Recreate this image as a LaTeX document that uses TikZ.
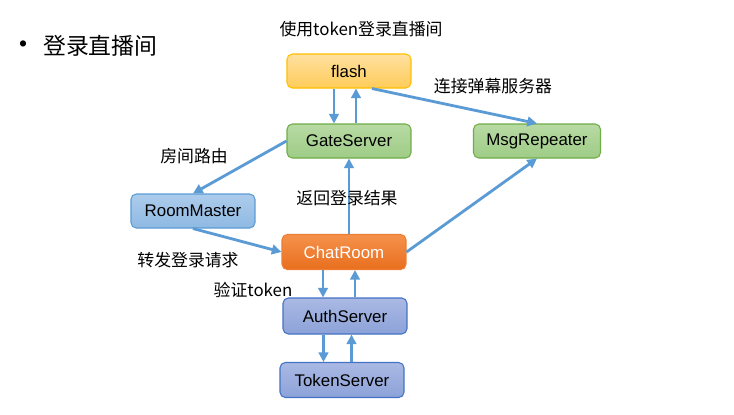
\documentclass[tikz,border=0pt]{standalone}
\usepackage{fontspec}
\usepackage{xcolor}
\setmainfont{Liberation Sans}
\newfontfamily\cjk{Noto Sans CJK SC}
\usetikzlibrary{arrows.meta}
\definecolor{flashtop}{RGB}{255,224,160}
\definecolor{flashbot}{RGB}{255,204,90}
\definecolor{flashline}{RGB}{255,192,0}
\definecolor{gatetop}{RGB}{184,218,164}
\definecolor{gatebot}{RGB}{158,204,134}
\definecolor{gateline}{RGB}{112,173,71}
\definecolor{roomtop}{RGB}{172,204,235}
\definecolor{roombot}{RGB}{143,185,227}
\definecolor{roomline}{RGB}{91,155,213}
\definecolor{chattop}{RGB}{245,146,76}
\definecolor{chatbot}{RGB}{233,110,30}
\definecolor{chatline}{RGB}{237,125,49}
\definecolor{authtop}{RGB}{170,185,228}
\definecolor{authbot}{RGB}{140,162,216}
\definecolor{authline}{RGB}{68,114,196}
\definecolor{linkblue}{RGB}{91,155,213}

\begin{document}
\begin{tikzpicture}[
    x=0.02cm, y=-0.02cm,
    box/.style={rectangle, rounded corners=3pt, minimum width=2.48cm, minimum height=0.68cm, text centered, draw, line width=0.6pt, font=\fontsize{9.6}{11}\selectfont},
    flashbox/.style={box, top color=flashtop, bottom color=flashbot, draw=flashline},
    gatebox/.style={box, top color=gatetop, bottom color=gatebot, draw=gateline},
    roombox/.style={box, top color=roomtop, bottom color=roombot, draw=roomline},
    chatbox/.style={box, top color=chattop, bottom color=chatbot, draw=chatline, text=white},
    authbox/.style={box, top color=authtop, bottom color=authbot, draw=authline},
    arrow/.style={->, line width=1.6pt, color=linkblue, >={Triangle[length=5.5pt,width=5.5pt]}},
    lbl/.style={font=\cjk\fontsize{9.6}{11}\selectfont}
]

% Background
\useasboundingbox (0,0) rectangle (734,414);
\fill[white] (0,0) rectangle (734,414);

% Title
\node[font=\fontsize{13}{15}\selectfont] (bullet) at (23,46) {\textbullet};
\node[font=\cjk\fontsize{13}{15}\selectfont, anchor=west] (title) at (37,46) {登录直播间};

% Servers
\node[flashbox] (flash) at (349,71) {flash};
\node[gatebox] (gate) at (349,141) {GateServer};
\node[gatebox, minimum width=2.54cm] (msgrep) at (537,141) {MsgRepeater};
\node[roombox] (roommaster) at (193,211) {RoomMaster};
\node[chatbox, minimum height=0.7cm] (chatroom) at (344,252) {ChatRoom};
\node[authbox, minimum height=0.72cm] (auth) at (345,316) {AuthServer};
\node[authbox, minimum height=0.7cm] (token) at (342,380) {TokenServer};

% Connections
\draw[arrow] ([xshift=-0.3cm]flash.south) -- ([xshift=-0.3cm]gate.north);
\draw[arrow] ([xshift=0.14cm]gate.north) -- ([xshift=0.14cm]flash.south);
\draw[arrow] ([xshift=0.46cm]flash.south) -- (msgrep.north);
\draw[arrow] (gate.west) -- (roommaster.north);
\draw[arrow] (roommaster.south) -- (chatroom.west);
\draw[arrow] (chatroom.north -| gate.south) -- (gate.south);
\draw[arrow] (chatroom.east) -- (msgrep.south);
\draw[arrow] ([xshift=-0.42cm]chatroom.south) -- ([xshift=-0.42cm]chatroom.south |- auth.north);
\draw[arrow] ([xshift=0.2cm]auth.north) -- ([xshift=0.2cm]auth.north |- chatroom.south);
\draw[arrow] ([xshift=-0.43cm]auth.south) -- ([xshift=-0.43cm]auth.south |- token.north);
\draw[arrow] ([xshift=0.19cm]token.north) -- ([xshift=0.19cm]token.north |- auth.south);

% Step labels
\node[lbl] (lbllogin) at (361,29) {使用token登录直播间};
\node[lbl] (lblmsg) at (493,86) {连接弹幕服务器};
\node[lbl] (lblroute) at (194,156) {房间路由};
\node[lbl] (lblresult) at (347,198) {返回登录结果};
\node[lbl] (lblforward) at (188,260) {转发登录请求};
\node[lbl] (lblverify) at (253,290) {验证token};

\end{tikzpicture}
\end{document}
